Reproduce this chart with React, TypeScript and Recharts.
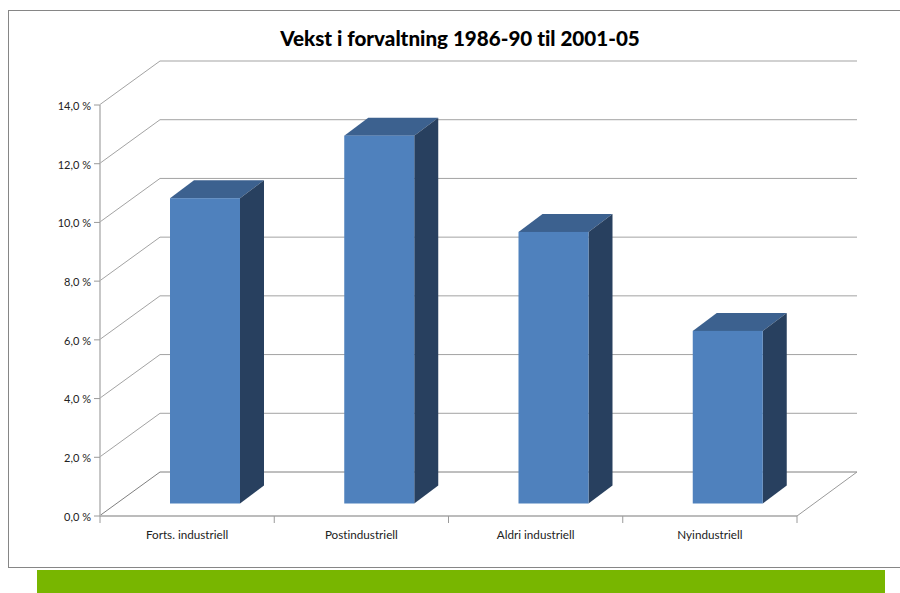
import { Bar, BarChart, CartesianGrid, XAxis, YAxis } from "recharts"

const categories = ["Forts. industriell", "Postindustriell", "Aldri industriell", "Nyindustriell"]
const growth = [10.4, 12.53, 9.25, 5.88]
const yTicks = [0, 2, 4, 6, 8, 10, 12, 14]

const data = categories.map((name, i) => ({ name, growth: growth[i] }))

const fontFamily = "Lato, Carlito, sans-serif"
const depthX = 60
const depthY = 44
const barLiftX = 18
const barLiftY = 12.5
const barDepthX = 24
const barDepthY = 18
const bandWidth = 174.25
const floorY = 516

function formatPercent(value: number) {
  return `${value.toFixed(1).replace(".", ",")} %`
}

function gridLine(props: any) {
  const { x1, y1, x2, key } = props
  const isFloor = y1 > 500
  const stroke = isFloor ? "#7f7f7f" : "#a3a3a3"
  return (
    <g key={key}>
      <path
        d={`M${x1},${y1 - 0.5}L${x1 + depthX},${y1 - depthY}L${x2 + depthX},${y1 - depthY}`}
        fill="none"
        stroke={stroke}
        strokeWidth={1}
      />
      {isFloor && (
        <line
          x1={x2}
          y1={y1}
          x2={x2 + depthX}
          y2={y1 - depthY}
          stroke="#9a9a9a"
        />
      )}
    </g>
  )
}

function Box3d(props: any) {
  const { x, y, width, height } = props
  const left = x + barLiftX
  const right = left + width
  const top = y - barLiftY
  const bottom = top + height
  return (
    <g>
      <path
        d={`M${left},${top}L${left + barDepthX},${top - barDepthY}L${right + barDepthX},${top - barDepthY}L${right},${top}Z`}
        fill="#3c618f"
      />
      <path
        d={`M${right},${top}L${right + barDepthX},${top - barDepthY}L${right + barDepthX},${bottom - barDepthY}L${right},${bottom}Z`}
        fill="#28405f"
      />
      <rect x={left} y={top} width={width} height={height} fill="#4f81bd" />
    </g>
  )
}

function CategoryTick(props: any) {
  const { x, payload, index } = props
  const edge = x + bandWidth / 2
  return (
    <g>
      {index === 0 && (
        <line x1={x - bandWidth / 2} y1={floorY} x2={x - bandWidth / 2} y2={floorY + 7} stroke="#9a9a9a" />
      )}
      <line x1={edge} y1={floorY} x2={edge} y2={floorY + 7} stroke="#9a9a9a" />
      <text
        x={x}
        y={floorY + 23}
        textAnchor="middle"
        fontSize={11.7}
        fontFamily={fontFamily}
        fill="#222"
        style={{ fontVariantLigatures: "none" }}
      >
        {payload.value}
      </text>
    </g>
  )
}

export default function App() {
  return (
    <div style={{ position: "absolute", left: 0, top: 0, width: 900, height: 593, background: "#fff", overflow: "hidden" }}>
      <div
        style={{
          position: "absolute",
          left: 8,
          top: 10,
          width: 900,
          height: 558,
          boxSizing: "border-box",
          border: "1px solid #868686",
        }}
      />
      <div style={{ position: "absolute", left: 37, top: 570, width: 848, height: 23, background: "#78b600" }} />
      <BarChart
        width={900}
        height={593}
        data={data}
        margin={{ top: 105, right: 103, bottom: 0, left: 0 }}
        style={{ position: "absolute", left: 0, top: 0 }}
      >
        <text
          x={460}
          y={45.5}
          textAnchor="middle"
          fontSize={20.6}
          fontWeight={900}
          fontFamily={fontFamily}
          fill="#000"
          style={{ fontVariantLigatures: "none" }}
        >
          Vekst i forvaltning 1986-90 til 2001-05
        </text>
        <CartesianGrid horizontal={gridLine} vertical={false} />
        <XAxis
          dataKey="name"
          axisLine={{ stroke: "#a6a6a6", strokeWidth: 1.5 }}
          tickLine={false}
          tick={<CategoryTick />}
          interval={0}
          height={77}
        />
        <YAxis
          width={100}
          domain={[0, 14]}
          ticks={yTicks}
          tickFormatter={formatPercent}
          axisLine={{ stroke: "#b5b5b5", strokeWidth: 1.5 }}
          tickLine={{ stroke: "#9a9a9a" }}
          tickSize={6}
          tick={{ fontSize: 11, fontFamily, fill: "#222", dy: 1, dx: -1 }}
        />
        <Bar dataKey="growth" barSize={70} shape={<Box3d />} isAnimationActive={false} />
      </BarChart>
    </div>
  )
}
